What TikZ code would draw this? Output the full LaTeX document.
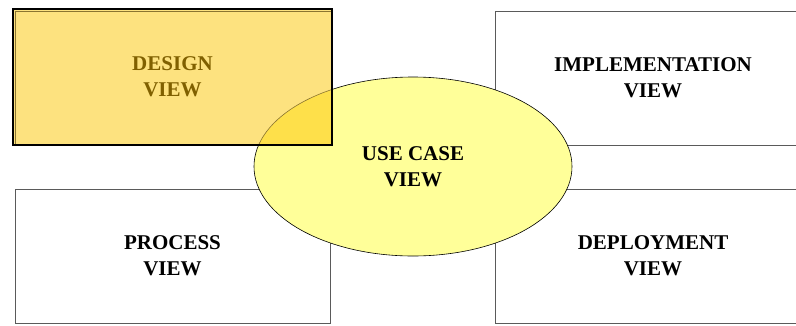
\documentclass[tikz,border=0pt]{standalone}
\usepackage{fontspec}
\setmainfont{Liberation Serif}
\usetikzlibrary{shapes.geometric}
\definecolor{golden}{HTML}{FDE27F}
\definecolor{overlapc}{HTML}{FEE04A}
\definecolor{ucyellow}{HTML}{FFFF99}
\definecolor{olivetext}{HTML}{806000}
\definecolor{olivedark}{HTML}{8A7430}
\definecolor{boxgray}{HTML}{5A5A5A}
\tikzset{
  viewfont/.style={font=\bfseries\fontsize{21}{26}\selectfont},
  viewbox/.style={rectangle, draw=boxgray, line width=1pt, fill=white,
    minimum width=315pt, minimum height=134pt, inner sep=0pt, align=center, viewfont},
  ucell/.style={ellipse, draw=black, line width=0.6pt, fill=ucyellow,
    minimum width=318pt, minimum height=179pt, inner sep=0pt},
  designbox/.style={rectangle, fill=golden, minimum width=318pt, minimum height=135pt,
    inner sep=0pt, align=center, text=olivetext, viewfont},
}
\begin{document}
\begin{tikzpicture}[x=1pt,y=-1pt]
\useasboundingbox (0,0) rectangle (796,325);
\begin{scope}
\clip (0,0) rectangle (796,325);
\node[viewbox] (impl) at (653,78) {IMPLEMENTATION\\VIEW};
\node[viewbox] (depl) at (653,256) {DEPLOYMENT\\VIEW};
\end{scope}
\node[viewbox] (proc) at (172.5,256) {PROCESS\\VIEW};
\node[ucell] (uc) at (413,166.5) {};
\node[designbox] (des) at (172.5,77) {DESIGN\\VIEW};
\begin{scope}
\clip (413,166.5) ellipse [x radius=159, y radius=89.5];
\fill[overlapc] (des.north west) rectangle (des.south east);
\end{scope}
\begin{scope}
\clip (des.north west) rectangle (des.south east);
\draw[olivedark, line width=0.6pt] (413,166.5) ellipse [x radius=159, y radius=89.5];
\end{scope}
\draw[olivedark, line width=1pt] ([xshift=2pt]des.south west) -- ([xshift=2pt,yshift=-2pt]des.north west) -- ([yshift=-2pt]des.north east);
\draw[black, line width=2pt] (des.north west) rectangle (des.south east);
\node[viewfont, align=center] (uctext) at (uc.center) {USE CASE\\VIEW};
\end{tikzpicture}
\end{document}
